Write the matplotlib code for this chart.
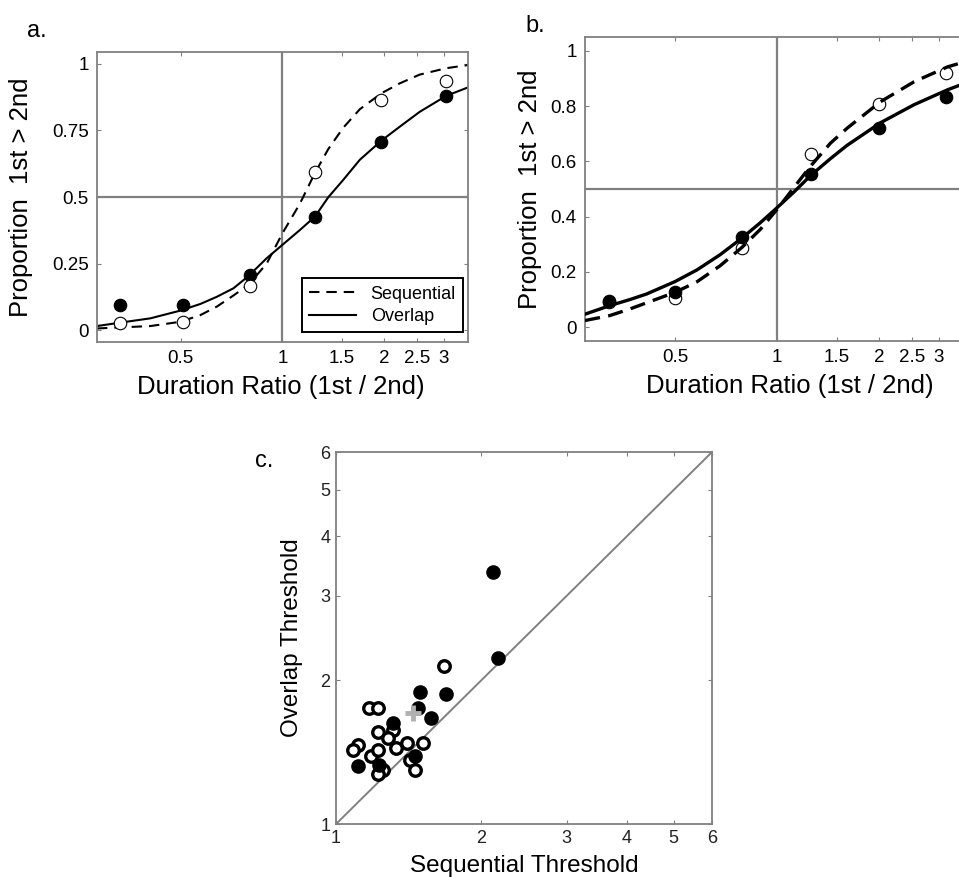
import matplotlib
matplotlib.use('Agg')
import matplotlib.pyplot as plt
from matplotlib.ticker import NullLocator

plt.rcParams['font.family'] = ['Liberation Sans', 'DejaVu Sans']
plt.rcParams['lines.scale_dashes'] = False

GRAY = '#808080'

# ---- panel a data ----
xa_pts = [0.33, 0.51, 0.8, 1.25, 1.96, 3.05]
a_overlap = [0.094, 0.094, 0.207, 0.425, 0.707, 0.88]
a_sequential = [0.026, 0.03, 0.165, 0.594, 0.865, 0.936]
xa_curve = [0.283, 0.332, 0.407, 0.499, 0.572, 0.64, 0.717, 0.794, 0.899, 1.0,
            1.127, 1.248, 1.367, 1.513, 1.695, 1.964, 2.223, 2.547, 3.05, 3.54]
a_overlap_fit = [0.015, 0.028, 0.044, 0.073, 0.098, 0.125, 0.157, 0.203, 0.27, 0.32,
                 0.376, 0.426, 0.499, 0.564, 0.64, 0.712, 0.764, 0.82, 0.88, 0.912]
a_sequential_fit = [0.006, 0.01, 0.015, 0.031, 0.056, 0.088, 0.13, 0.17, 0.25, 0.363,
                    0.475, 0.59, 0.68, 0.76, 0.83, 0.89, 0.927, 0.96, 0.984, 0.996]

# ---- panel b data ----
xb_pts = [0.32, 0.5, 0.79, 1.26, 2.0, 3.15]
b_overlap = [0.094, 0.126, 0.325, 0.556, 0.722, 0.834]
b_sequential = [0.09, 0.105, 0.285, 0.625, 0.809, 0.92]
xb_curve = [0.271, 0.321, 0.368, 0.412, 0.5, 0.58, 0.679, 0.787, 0.893, 1.0,
            1.12, 1.255, 1.439, 1.611, 2.023, 2.54, 3.19, 3.82]
b_overlap_fit = [0.047, 0.078, 0.1, 0.12, 0.165, 0.207, 0.262, 0.322, 0.378, 0.432,
                 0.488, 0.548, 0.61, 0.658, 0.74, 0.805, 0.859, 0.895]
b_sequential_fit = [0.024, 0.042, 0.066, 0.088, 0.126, 0.164, 0.222, 0.288, 0.354, 0.426,
                    0.504, 0.582, 0.666, 0.72, 0.816, 0.888, 0.942, 0.97]

ratio_ticks = [0.5, 1, 1.5, 2, 2.5, 3]
ratio_labels = ['0.5', '1', '1.5', '2', '2.5', '3']

# ---- panel c data (thresholds per subject) ----
c_seq_filled = [2.11, 2.16, 1.49, 1.69, 1.48, 1.57, 1.31, 1.46, 1.11, 1.23]
c_ovl_filled = [3.37, 2.22, 1.89, 1.87, 1.75, 1.67, 1.63, 1.39, 1.32, 1.33]
c_seq_open = [1.67, 1.17, 1.22, 1.22, 1.31, 1.28, 1.40, 1.51, 1.11, 1.085,
              1.18, 1.22, 1.33, 1.42, 1.25, 1.46, 1.22]
c_ovl_open = [2.14, 1.75, 1.75, 1.56, 1.57, 1.51, 1.48, 1.48, 1.46, 1.43,
              1.39, 1.43, 1.44, 1.36, 1.30, 1.30, 1.27]
c_mean = (1.44, 1.71)
c_ticks = [1, 2, 3, 4, 5, 6]


def style_axes(ax):
    for s in ax.spines.values():
        s.set_color(GRAY)
        s.set_linewidth(1.3)
    ax.tick_params(which='both', direction='in', top=True, right=True,
                   color=GRAY, length=3, width=0.8, labelsize=13.5, pad=6)


fig = plt.figure(figsize=(9.59, 8.77), dpi=100)

# ---- panel a ----
ax = fig.add_axes([0.1011, 0.6100, 0.3869, 0.3307])
ax.set_xscale('log')
ax.axvline(1, color=GRAY, lw=1.6, zorder=1)
ax.axhline(0.5, color=GRAY, lw=1.6, zorder=1)
ax.plot(xa_curve, a_sequential_fit, color='black', lw=1.5, dashes=(7.5, 5), label='Sequential', zorder=2)
ax.plot(xa_curve, a_overlap_fit, color='black', lw=1.5, label='Overlap', zorder=2)
ax.plot(xa_pts, a_overlap, 'o', color='black', ms=9, mew=0.8, zorder=3)
ax.plot(xa_pts, a_sequential, 'o', mfc='white', mec='black', ms=9, mew=0.8, zorder=3)
ax.set_xlim(0.283, 3.54)
ax.set_ylim(-0.045, 1.045)
ax.set_xticks(ratio_ticks)
ax.set_xticklabels(ratio_labels)
ax.xaxis.set_minor_locator(NullLocator())
ax.set_yticks([0, 0.25, 0.5, 0.75, 1])
ax.set_yticklabels(['0', '0.25', '0.5', '0.75', '1'])
style_axes(ax)
ax.set_xlabel('Duration Ratio (1st / 2nd)', fontsize=18.5)
ax.set_ylabel('Proportion  1st > 2nd', fontsize=18.5)
ax.xaxis.set_label_coords(0.496, -0.115)
ax.yaxis.set_label_coords(-0.172, 0.5)
leg = ax.legend(loc='lower right', bbox_to_anchor=(0.987, 0.034), borderaxespad=0,
                fontsize=13, fancybox=False, framealpha=1, edgecolor='black',
                handlelength=2.6, borderpad=0.4, labelspacing=0.3)
leg.get_frame().set_linewidth(1.4)

# ---- panel b ----
ax = fig.add_axes([0.6100, 0.6112, 0.4004, 0.3466])
ax.set_xscale('log')
ax.axvline(1, color=GRAY, lw=1.6, zorder=1)
ax.axhline(0.5, color=GRAY, lw=1.6, zorder=1)
ax.plot(xb_pts, b_sequential, 'o', mfc='white', mec='black', ms=9, mew=0.8, zorder=2)
ax.plot(xb_pts, b_overlap, 'o', color='black', ms=9, mew=0.8, zorder=2)
ax.plot(xb_curve, b_sequential_fit, color='black', lw=2.4, dashes=(11, 6), zorder=3)
ax.plot(xb_curve, b_overlap_fit, color='black', lw=2.4, zorder=3)
ax.set_xlim(0.271, 3.69)
ax.set_ylim(-0.05, 1.05)
ax.set_xticks(ratio_ticks)
ax.set_xticklabels(ratio_labels)
ax.xaxis.set_minor_locator(NullLocator())
ax.set_yticks([0, 0.2, 0.4, 0.6, 0.8, 1])
ax.set_yticklabels(['0', '0.2', '0.4', '0.6', '0.8', '1'])
style_axes(ax)
ax.set_xlabel('Duration Ratio (1st / 2nd)', fontsize=18.5)
ax.set_ylabel('Proportion  1st > 2nd', fontsize=18.5)
ax.xaxis.set_label_coords(0.534, -0.11)
ax.yaxis.set_label_coords(-0.112, 0.5)

# ---- panel c ----
ax = fig.add_axes([0.3504, 0.0604, 0.3921, 0.4242])
ax.set_xscale('log')
ax.set_yscale('log')
ax.plot([1, 6], [1, 6], color=GRAY, lw=1.4, zorder=1)
ax.plot(c_seq_open, c_ovl_open, 'o', mfc='white', mec='black', ms=8.3, mew=2.4, zorder=2)
ax.plot(c_seq_filled, c_ovl_filled, 'o', color='black', ms=9.5, mew=1, zorder=3)
ax.plot([c_mean[0]], [c_mean[1]], '+', color='#b0b0b0', ms=11, mew=3.5, zorder=4)
ax.set_xlim(1, 6)
ax.set_ylim(1, 6)
ax.set_xticks(c_ticks)
ax.set_xticklabels([str(t) for t in c_ticks])
ax.set_yticks(c_ticks)
ax.set_yticklabels([str(t) for t in c_ticks])
ax.xaxis.set_minor_locator(NullLocator())
ax.yaxis.set_minor_locator(NullLocator())
style_axes(ax)
ax.tick_params(labelsize=13, labelcolor='#222222', pad=4)
ax.set_xlabel('Sequential Threshold', fontsize=17.5)
ax.set_ylabel('Overlap Threshold', fontsize=17.5)
ax.xaxis.set_label_coords(0.5, -0.082)
ax.yaxis.set_label_coords(-0.088, 0.5)

# panel letters
fig.text(0.0282, 0.9578, 'a.', fontsize=17, va='baseline')
fig.text(0.5474, 0.9635, 'b.', fontsize=17, va='baseline')
fig.text(0.2659, 0.4675, 'c.', fontsize=17, va='baseline')

fig.savefig('out.png', dpi=100)
